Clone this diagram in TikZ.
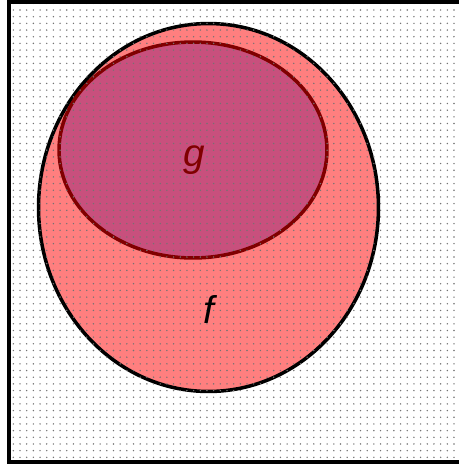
\documentclass[tikz,border=0pt]{standalone}
\usepackage{fontspec}
\setmainfont{Liberation Sans}
\usepackage{tikz}
\usetikzlibrary{shapes.geometric, patterns.meta}
\definecolor{SetFRed}{HTML}{FF7F7F}
\definecolor{SetGPink}{HTML}{C8507D}
\definecolor{BorderRed}{HTML}{800000}

\begin{document}
\begin{tikzpicture}[
    x=0.02cm, y=-0.02cm,
    % Style for the two sets
    setbox/.style = {
        ellipse, inner sep=0pt, line width=2pt
    },
    % Style for the dotted screen on top of the fills
    dotfill/.style = {
        pattern={Dots[distance=3.8pt, radius=0.45pt]},
        pattern color=black!55
    },
    % Style for the set labels
    setlabel/.style = {font=\fontsize{22}{26}\selectfont\itshape, anchor=base},
    frame/.style = {draw=black, line width=2.2pt},
]
\useasboundingbox (0,0) rectangle (459,464);
\clip (0,0) rectangle (459,464);

% --- 1. UNIVERSE AND SETS ---
\fill[white] (9,2) rectangle (490,462);
\node[setbox, fill=SetFRed, draw=black,
      minimum width=6.8cm, minimum height=7.36cm] (setF) at (208.5,207.5) {};
\node[setbox, fill=SetGPink, draw=BorderRed,
      minimum width=5.36cm, minimum height=4.32cm] (setG) at (193,150) {};

% --- 2. DOT SCREEN AND FRAME ---
\fill[dotfill] (9,2) rectangle (490,462);
\draw[frame] (9,2) rectangle (490,462);

% --- 3. LABELS ---
\node[setlabel, text=BorderRed] (lblG) at (194,166) {g};
\node[setlabel, text=black] (lblF) at (209,323) {f};

\end{tikzpicture}
\end{document}
